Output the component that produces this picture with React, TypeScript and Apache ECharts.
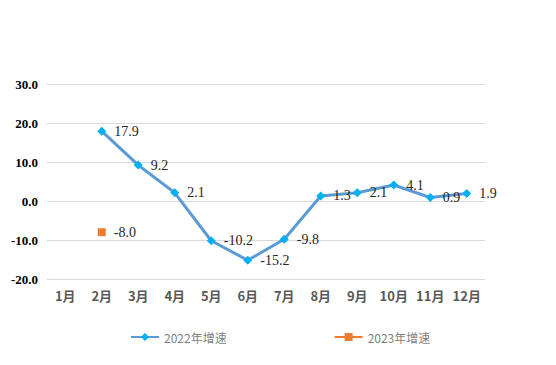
import React, { useEffect, useRef } from "react";
import * as echarts from "echarts";

const months = ["1月", "2月", "3月", "4月", "5月", "6月", "7月", "8月", "9月", "10月", "11月", "12月"];
const growth2022: (number | null)[] = [null, 17.9, 9.2, 2.1, -10.2, -15.2, -9.8, 1.3, 2.1, 4.1, 0.9, 1.9];
const growth2023: (number | null)[] = [null, -8.0, null, null, null, null, null, null, null, null, null, null];
const seriesNames = ["2022年增速", "2023年增速"];

export default function App() {
  const ref = useRef<HTMLDivElement>(null);
  useEffect(() => {
    const chart = echarts.init(ref.current!, null, { renderer: "svg" });
    const labelStyle = {
      show: true,
      position: "right" as const,
      distance: 8,
      fontFamily: "Liberation Serif",
      fontSize: 14,
      color: "#262626",
      formatter: (p: any) => Number(p.value).toFixed(1),
    };
    chart.setOption({
      animation: false,
      backgroundColor: "#fff",
      grid: { left: 47, right: 71, top: 84, bottom: 86, containLabel: false },
      legend: {
        bottom: 22,
        left: 130,
        padding: 0,
        itemGap: 107,
        itemWidth: 28,
        itemHeight: 10,
        textStyle: { color: "#7f7f7f", fontSize: 12, fontFamily: "Noto Sans CJK SC" },
        data: seriesNames,
      },
      xAxis: {
        type: "category",
        data: months,
        boundaryGap: true,
        axisLine: { show: false },
        axisTick: { show: false },
        axisLabel: {
          interval: 0,
          color: "#595959",
          fontWeight: "bold",
          fontSize: 13,
          fontFamily: "Noto Sans CJK SC",
          margin: 10,
        },
      },
      yAxis: {
        type: "value",
        min: -20,
        max: 30,
        interval: 10,
        axisLine: { show: false },
        axisTick: { show: false },
        splitLine: { lineStyle: { color: "#d9d9d9", width: 1 } },
        axisLabel: {
          color: "#000",
          fontWeight: "bold",
          fontSize: 13,
          fontFamily: "Liberation Serif",
          margin: 9,
          formatter: (v: number) => v.toFixed(1),
        },
      },
      series: [
        {
          name: seriesNames[0],
          type: "line",
          data: growth2022,
          symbol: "diamond",
          symbolSize: 9,
          lineStyle: { color: "#5B9BD5", width: 3 },
          itemStyle: { color: "#00B0F0" },
          label: labelStyle,
        },
        {
          name: seriesNames[1],
          type: "line",
          data: growth2023,
          symbol: "rect",
          symbolSize: 8,
          lineStyle: { color: "#ED7D31", width: 3 },
          itemStyle: { color: "#ED7D31" },
          label: labelStyle,
        },
      ],
    });
    return () => chart.dispose();
  }, []);
  return (
    <div
      ref={ref}
      style={{ position: "fixed", left: 0, top: 0, width: 556, height: 365 }}
    />
  );
}
